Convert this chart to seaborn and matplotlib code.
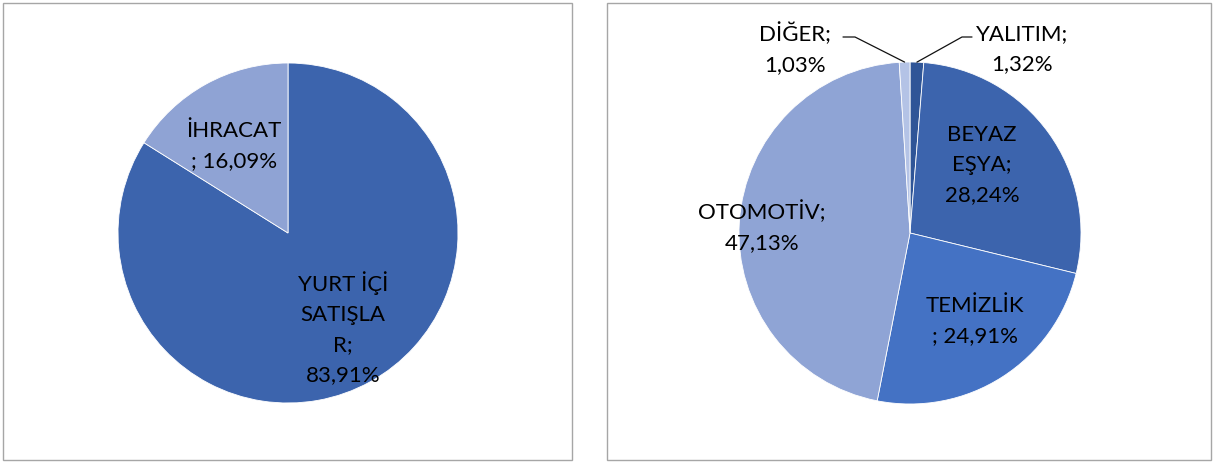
import numpy as np
import matplotlib
matplotlib.use("Agg")
import matplotlib.pyplot as plt
import seaborn as sns
from matplotlib.patches import Rectangle

# ---- data ----
left_labels = ["YURT İÇİ\nSATIŞLA\nR;\n83,91%", "İHRACAT\n; 16,09%"]
left_values = [83.91, 16.09]
left_colors = ["#3C64AD", "#8FA3D4"]

right_labels = ["YALITIM;\n1,32%", "BEYAZ\nEŞYA;\n28,24%", "TEMİZLİK\n; 24,91%",
                "OTOMOTİV;\n47,13%", "DİĞER;\n1,03%"]
right_values = [1.32, 28.24, 24.91, 47.13, 1.03]
right_colors = ["#2F5597", "#3C64AD", "#4472C4", "#8FA4D5", "#B4C3E6"]

sns.set_theme(style="white")
plt.rcParams['font.family'] = ['Lato', 'DejaVu Sans']

W, H = 1214, 463
fig = plt.figure(figsize=(W / 100, H / 100), dpi=100)
fig.patch.set_facecolor("white")

# panel frames
for (x0, y0, x1, y1) in [(3, 3, 572, 460), (607, 3, 1211, 460)]:
    fig.add_artist(Rectangle((x0 / W, (H - y1) / H), (x1 - x0) / W, (y1 - y0) / H,
                             transform=fig.transFigure, fill=False,
                             ec="#A6A6A6", lw=1.0))

FS = 16
LS = 1.62
TXT = "#000000"


def make_axes(cx, cy, r):
    ax = fig.add_axes([(cx - r) / W, (H - cy - r) / H, 2 * r / W, 2 * r / H])
    ax.set_xlim(-1, 1)
    ax.set_ylim(-1, 1)
    ax.set_axis_off()
    return ax


def px(cx, cy, r, x, y):
    return ((x - cx) / r, (cy - y) / r)


# ---- left pie ----
cx, cy, r = 288, 233, 170
ax1 = make_axes(cx, cy, r)
ax1.pie(left_values, colors=sns.color_palette(left_colors), startangle=90,
        counterclock=False, radius=1, wedgeprops=dict(linewidth=0.6, edgecolor="white"))
ax1.set_xlim(-1, 1); ax1.set_ylim(-1, 1)
left_pos = [(343, 328), (234, 146)]
for lab, (x, y) in zip(left_labels, left_pos):
    ax1.text(*px(cx, cy, r, x, y), lab, ha="center", va="center", fontsize=FS,
             linespacing=LS, color=TXT, multialignment="center")

# ---- right pie ----
cx2, cy2, r2 = 910, 233, 171
ax2 = make_axes(cx2, cy2, r2)
wedges, _ = ax2.pie(right_values, colors=sns.color_palette(right_colors), startangle=90,
                    counterclock=False, radius=1,
                    wedgeprops=dict(linewidth=0.6, edgecolor="white"))
ax2.set_xlim(-1, 1); ax2.set_ylim(-1, 1)
right_pos = [(1022, 49), (982, 165), (975, 321), (762, 227), (795, 49)]
for lab, (x, y) in zip(right_labels, right_pos):
    ax2.text(*px(cx2, cy2, r2, x, y), lab, ha="center", va="center", fontsize=FS,
             linespacing=LS, color=TXT, multialignment="center")

# leader lines for the two thin slices
leaders = {0: [(962, 37), (972, 37)], 4: [(855, 37), (843, 37)]}
for idx, pts in leaders.items():
    w = wedges[idx]
    ang = np.deg2rad((w.theta1 + w.theta2) / 2)
    sx, sy = np.cos(ang), np.sin(ang)
    xs = [sx] + [px(cx2, cy2, r2, *p)[0] for p in pts]
    ys = [sy] + [px(cx2, cy2, r2, *p)[1] for p in pts]
    ax2.plot(xs, ys, color="#111111", lw=0.9, clip_on=False)

fig.savefig("out.png", dpi=100, facecolor="white")
